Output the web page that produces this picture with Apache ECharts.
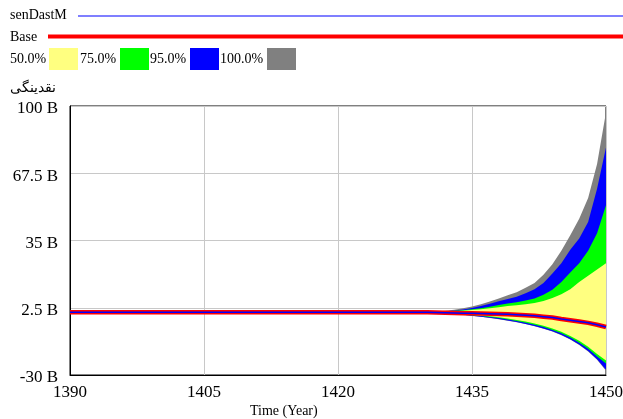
<!DOCTYPE html>
<html>
<head>
<meta charset="utf-8">
<script src="https://cdn.jsdelivr.net/npm/echarts@6/dist/echarts.min.js"></script>
<style>html,body{margin:0;padding:0;background:#fff}#c{width:623px;height:419px}</style>
</head>
<body>
<div id="c"></div>
<script>
// Time (Year)
const years    = [1390, 1400, 1410, 1420, 1430, 1431, 1432, 1433, 1434, 1435, 1436, 1437, 1438, 1439, 1440, 1441, 1442, 1443, 1444, 1445, 1446, 1447, 1448, 1449, 1450];
// Base run and senDastM run (B)
const baseRun  = [0.3, 0.3, 0.3, 0.3, 0.3, 0.2, 0.1, 0.0, -0.1, -0.2, -0.3, -0.4, -0.5, -0.7, -0.9, -1.1, -1.4, -1.8, -2.2, -2.9, -3.5, -4.1, -4.8, -5.7, -6.8];
const senDastM = [0.3, 0.3, 0.3, 0.3, 0.3, 0.2, 0.1, 0.0, -0.1, -0.2, -0.3, -0.4, -0.5, -0.7, -0.9, -1.1, -1.4, -1.8, -2.2, -2.9, -3.5, -4.1, -4.8, -5.7, -6.8];
// confidence bounds (B)
const top100   = [0.3, 0.3, 0.3, 0.3, 0.4, 0.7, 1.0, 1.5, 2.2, 3.1, 4.2, 5.5, 7.0, 8.5, 10.0, 12.2, 14.5, 18.5, 23.5, 30.0, 37.5, 45.5, 55.5, 72.0, 97.0];
const top95    = [0.3, 0.3, 0.3, 0.3, 0.4, 0.6, 0.8, 1.2, 1.7, 2.4, 3.3, 4.4, 5.6, 6.7, 7.8, 9.5, 11.5, 14.5, 19.0, 24.0, 30.5, 36.0, 44.0, 60.0, 80.0];
const top75    = [0.3, 0.3, 0.3, 0.3, 0.3, 0.5, 0.7, 1.0, 1.3, 1.8, 2.3, 3.0, 3.8, 4.5, 5.2, 6.0, 7.0, 8.8, 11.2, 15.0, 19.5, 24.0, 30.0, 38.5, 52.0];
const top50    = [0.3, 0.3, 0.3, 0.3, 0.3, 0.45, 0.6, 0.8, 1.0, 1.4, 1.8, 2.3, 2.8, 3.3, 3.7, 4.2, 4.8, 5.8, 7.2, 9.0, 11.5, 15.0, 18.0, 21.0, 24.0];
const bot50    = [0.3, 0.3, 0.3, 0.3, 0.3, 0.15, 0.0, -0.25, -0.5, -0.85, -1.2, -1.65, -2.1, -2.75, -3.4, -4.2, -5.1, -6.2, -7.5, -9.1, -11.1, -13.5, -16.4, -19.8, -23.0];
const bot75    = [0.3, 0.3, 0.3, 0.3, 0.3, 0.1, -0.1, -0.4, -0.7, -1.1, -1.5, -2.0, -2.5, -3.2, -3.9, -4.8, -5.7, -6.8, -8.2, -9.8, -11.9, -14.4, -17.3, -21.0, -24.5];
const bot95    = [0.3, 0.3, 0.3, 0.3, 0.3, 0.05, -0.2, -0.55, -0.9, -1.35, -1.8, -2.35, -2.9, -3.65, -4.4, -5.3, -6.3, -7.5, -8.9, -10.6, -12.7, -15.3, -18.4, -22.4, -27.5];
const bot100   = [0.3, 0.3, 0.3, 0.3, 0.3, 0.05, -0.2, -0.6, -1.0, -1.45, -1.9, -2.45, -3.0, -3.75, -4.5, -5.4, -6.4, -7.6, -9.0, -10.8, -12.9, -15.5, -18.6, -22.6, -28.0];
// tick labels
const xTicks = [1390, 1405, 1420, 1435, 1450];
const yTicks = [-30, 2.5, 35, 67.5, 100];
const legendBands = ['50.0%', '75.0%', '95.0%', '100.0%'];
const bandColors = ['#ffff80', '#00ff00', '#0000ff', '#808080'];

const FONT = "'Liberation Serif', 'Times New Roman', 'DejaVu Serif', serif";
const series = [];
function band(lower, upper, color) {
  series.push({
    type: 'custom', silent: true, clip: true,
    data: [[years[0], lower[0]]],
    encode: { x: 0, y: 1 },
    renderItem: function (params, api) {
      const up = upper.map((v, j) => api.coord([years[j], v]));
      const lo = lower.map((v, j) => api.coord([years[j], v])).reverse();
      return { type: 'polygon', shape: { points: up.concat(lo) }, style: { fill: color, stroke: null } };
    }
  });
}
band(bot100, top100, bandColors[3]);
band(bot95, top95, bandColors[2]);
band(bot75, top75, bandColors[1]);
band(bot50, top50, bandColors[0]);
series.push({
  name: 'Base', type: 'line', symbol: 'none', data: years.map((x, i) => [x, baseRun[i]]),
  lineStyle: { color: '#ff0000', width: 4.5 }
});
series.push({
  name: 'senDastM', type: 'line', symbol: 'none', data: years.map((x, i) => [x, senDastM[i]]),
  lineStyle: { color: '#0000ff', width: 1.5 }
});

const graphic = [
  { type: 'text', left: 10, top: 8, style: { text: 'senDastM', font: '14px ' + FONT, fill: '#000' } },
  { type: 'line', shape: { x1: 78, y1: 16, x2: 623, y2: 16 }, style: { stroke: '#0000ff', lineWidth: 1.2 } },
  { type: 'text', left: 10, top: 30, style: { text: 'Base', font: '14px ' + FONT, fill: '#000' } },
  { type: 'line', shape: { x1: 48, y1: 36.5, x2: 623, y2: 36.5 }, style: { stroke: '#ff0000', lineWidth: 4 } },
  { type: 'text', left: 10, top: 81, style: { text: 'نقدینگی', font: '14px ' + FONT, fill: '#000' } }
];
const textX = [10, 80, 150, 220];
const swX = [49, 120, 190, 267];
legendBands.forEach((t, i) => {
  graphic.push({ type: 'text', left: textX[i], top: 52, style: { text: t, font: '14px ' + FONT, fill: '#000' } });
  graphic.push({ type: 'rect', shape: { x: swX[i], y: 48, width: 29, height: 22 }, style: { fill: bandColors[i] } });
});
graphic.push({ type: 'text', left: 250, top: 404, style: { text: 'Time (Year)', font: '14px ' + FONT, fill: '#000' } });

const chart = echarts.init(document.getElementById('c'), null, { renderer: 'canvas' });
chart.setOption({
  animation: false,
  backgroundColor: '#fff',
  grid: { left: 70, right: 17, top: 106, bottom: 44, show: true, borderColor: '#000', borderWidth: 1, containLabel: false, outerBoundsMode: 'none' },
  xAxis: {
    type: 'value', min: xTicks[0], max: xTicks[xTicks.length - 1], interval: xTicks[1] - xTicks[0],
    axisLine: { onZero: false, lineStyle: { color: '#000' } }, axisTick: { show: false },
    splitLine: { lineStyle: { color: '#c8c8c8', width: 1 } },
    axisLabel: { color: '#000', fontFamily: FONT, fontSize: 17, margin: 9, formatter: v => String(v) }
  },
  yAxis: {
    type: 'value', min: yTicks[0], max: yTicks[yTicks.length - 1], interval: yTicks[1] - yTicks[0],
    axisLine: { show: true, lineStyle: { color: '#000' } }, axisTick: { show: false },
    splitLine: { lineStyle: { color: '#c8c8c8', width: 1 } },
    axisLabel: { color: '#000', fontFamily: FONT, fontSize: 17, margin: 12, formatter: v => v + ' B', verticalAlign: 'top', lineHeight: 6 }
  },
  graphic: graphic,
  series: series
});
</script>
</body>
</html>
